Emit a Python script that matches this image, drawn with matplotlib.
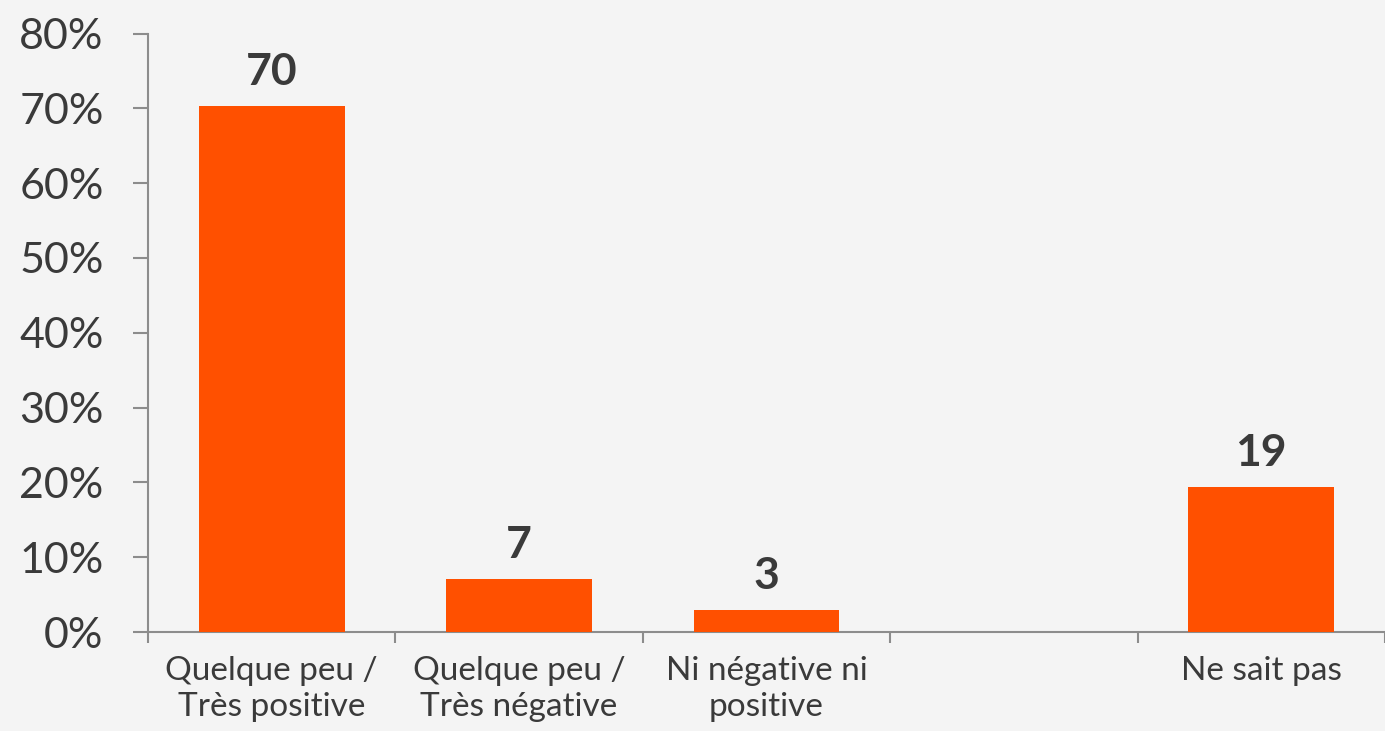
import numpy as np
import matplotlib
matplotlib.use('Agg')
import matplotlib.pyplot as plt
from matplotlib.ticker import FixedLocator, PercentFormatter

# Data
categories = ['Quelque peu /\nTrès positive', 'Quelque peu /\nTrès négative',
              'Ni négative ni\npositive', '', 'Ne sait pas']
values = [70.3, 7.1, 2.9, np.nan, 19.4]
labels = ['70', '7', '3', '', '19']
y_ticks = [0, 10, 20, 30, 40, 50, 60, 70, 80]

BG = '#f4f4f4'
BAR = '#ff5000'
TEXT = '#3a3a3a'
AXIS = '#8c8c8c'

plt.rcParams['font.family'] = ['Lato', 'DejaVu Sans']

fig = plt.figure(figsize=(13.85, 7.31), dpi=100, facecolor=BG)
ax = fig.add_axes([148 / 1385, 1 - 632 / 731, 1 - 148 / 1385, (632 - 33.5) / 731])
ax.set_facecolor(BG)

x = np.arange(len(categories))
bars = ax.bar(x, values, width=0.59, color=BAR, zorder=3)

# value labels above the bars
for xi, v, lab in zip(x, values, labels):
    if lab:
        ax.annotate(lab, (xi, v), xytext=(0, 15), textcoords='offset points',
                    ha='center', va='baseline', fontsize=32, fontweight='bold',
                    color=TEXT)

ax.set_xlim(-0.5, len(categories) - 0.5)
ax.set_ylim(0, 80)
ax.set_yticks(y_ticks)
ax.yaxis.set_major_formatter(PercentFormatter(decimals=0))
ax.tick_params(axis='y', labelsize=31, labelcolor=TEXT, color=AXIS,
               length=11, width=1.5, pad=21)

ax.set_xticks(x)
ax.set_xticklabels(categories, fontsize=24, color=TEXT, linespacing=1.25)
ax.xaxis.set_minor_locator(FixedLocator(np.arange(-0.5, len(categories), 1.0)))
ax.tick_params(axis='x', which='major', length=0, pad=17)
ax.tick_params(axis='x', which='minor', length=8, width=1.5, color=AXIS)

for side in ['top', 'right']:
    ax.spines[side].set_visible(False)
for side in ['left', 'bottom']:
    ax.spines[side].set_color(AXIS)
    ax.spines[side].set_linewidth(1.5)

fig.savefig('out.png', dpi=100, facecolor=BG)
